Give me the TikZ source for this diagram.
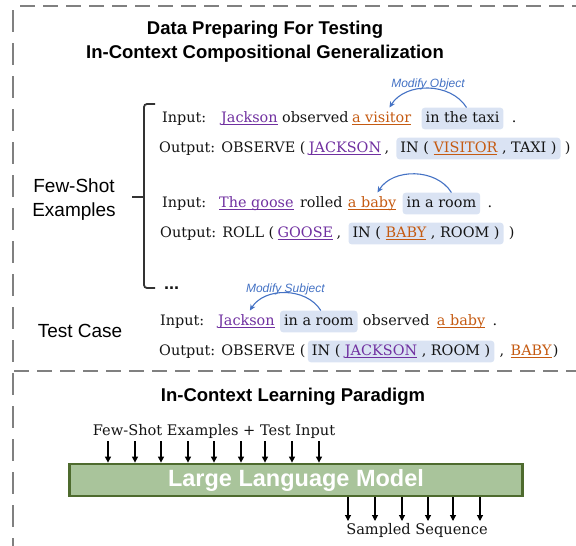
\documentclass[tikz,border=0pt]{standalone}
\usepackage{fontspec}
\setmainfont{DejaVu Serif}
\newfontfamily\hsans{Liberation Sans}
\usetikzlibrary{arrows.meta,calc}
\definecolor{pur}{HTML}{7030A0}
\definecolor{org}{HTML}{C55A11}
\definecolor{blu}{HTML}{4472C4}
\definecolor{hlc}{HTML}{DAE3F3}
\definecolor{frm}{HTML}{808080}
\definecolor{gfill}{HTML}{A9C49B}
\definecolor{gdraw}{HTML}{4E6B2E}
\newcommand\ulw[2]{{\color{#1}\setbox0\hbox{#2}\rlap{\rule[-3pt]{\wd0}{0.9pt}}\box0}}
\tikzset{
  tx/.style={anchor=base west, inner sep=0pt, font=\fontsize{14.4}{16}\selectfont, text=black!92},
  hl/.style={tx, fill=hlc, rounded corners=3pt, inner xsep=4pt, text height=10.5pt, text depth=3.5pt, inner ysep=3.8pt},
  mod/.style={font=\hsans\itshape\fontsize{12}{14}\selectfont, text=blu, inner sep=0pt},
  marr/.style={blu, line width=1.1pt, -{Stealth[length=6pt,width=5.5pt]}},
  ttl/.style={font=\hsans\bfseries\fontsize{18.5}{22}\selectfont, inner sep=0pt},
  lbl/.style={font=\hsans\fontsize{19}{22}\selectfont, inner sep=0pt},
  dframe/.style={frm, line width=2.4pt},
  darr/.style={line width=1.1pt, -{Triangle[length=6pt,width=6pt]}},
}
\newcommand\after[2]{([xshift=#2pt]#1.base east)}
\begin{document}
\begin{tikzpicture}[x=1pt,y=-1pt]
\useasboundingbox (0,0) rectangle (576,546);
% frame
\draw[dframe, dash pattern=on 15pt off 8pt] (20,6) -- (576,6);
\draw[dframe, dash pattern=on 22pt off 11pt] (13,10) -- (13,546);
\draw[dframe, dash pattern=on 15pt off 8pt] (14,371) -- (576,371);
% titles
\node[ttl] (t1) at (265,30) {Data Preparing For Testing};
\node[ttl] (t2) at (265,54) {In-Context Compositional Generalization};
% left labels
\node[lbl, align=center] (fs) at (74,200) {Few-Shot\\[2pt]Examples};
\node[lbl] (tc) at (80,331) {Test Case};
% bracket
\draw[black!80, line width=1.8pt, rounded corners=3pt] (155,104) -- (144,104) -- (144,288) -- (155,288);
\draw[black!80, line width=1.8pt] (144,197) -- (132,197);
% row 1
\node[tx] (i1) at (162,122) {Input:};
\node[tx] (j1) at (221,122) {\ulw{pur}{Jackson}};
\node[tx] (o1) at \after{j1}{4} {observed};
\node[tx] (v1) at \after{o1}{3} {\ulw{org}{a visitor}};
\node[hl] (b1) at \after{v1}{10} {in the taxi};
\node[tx] (d1) at \after{b1}{8} {.};
\node[tx] (p1) at (159,152) {Output: OBSERVE (};
\node[tx] (J1) at \after{p1}{3} {\ulw{pur}{JACKSON}};
\node[tx] (c1) at \after{J1}{3} {,};
\node[hl] (B1) at \after{c1}{7} {IN ( \ulw{org}{VISITOR} , TAXI )};
\node[tx] (e1) at \after{B1}{4} {)};
\coordinate (a1s) at ($(b1.north)+(4,0)$);
\coordinate (a1e) at ($(v1.east |- b1.north)+(-22,0)$);
\draw[marr] (a1s) to[bend right=58] (a1e);
\node[mod] (m1) at ($(a1s)!0.5!(a1e)+(0,-23)$) {Modify Object};
% row 2
\node[tx] (i2) at (162,207) {Input:};
\node[tx] (g2) at (219,207) {\ulw{pur}{The goose}};
\node[tx] (r2) at \after{g2}{6} {rolled};
\node[tx] (y2) at \after{r2}{5} {\ulw{org}{a baby}};
\node[hl] (b2) at \after{y2}{6} {in a room};
\node[tx] (d2) at \after{b2}{7} {.};
\node[tx] (p2) at (160,237) {Output: ROLL (};
\node[tx] (G2) at \after{p2}{3} {\ulw{pur}{GOOSE}};
\node[tx] (c2) at \after{G2}{3} {,};
\node[hl] (B2) at \after{c2}{7} {IN ( \ulw{org}{BABY} , ROOM )};
\node[tx] (e2) at \after{B2}{5} {)};
\coordinate (a2s) at ($(b2.north)+(10,0)$);
\coordinate (a2e) at ($(y2.east |- b2.north)+(-19,0)$);
\draw[marr] (a2s) to[bend right=58] (a2e);
% dots
\node[tx, font=\hsans\bfseries\fontsize{18}{20}\selectfont] (dots) at (164,289) {...};
% test case
\node[tx] (i3) at (160,325) {Input:};
\node[tx] (j3) at (218,325) {\ulw{pur}{Jackson}};
\node[hl] (b3) at \after{j3}{5} {in a room};
\node[tx] (o3) at \after{b3}{5} {observed};
\node[tx] (y3) at \after{o3}{7} {\ulw{org}{a baby}};
\node[tx] (d3) at \after{y3}{7} {.};
\node[tx] (p3) at (159,355) {Output: OBSERVE (};
\node[hl] (B3) at \after{p3}{2} {IN ( \ulw{pur}{JACKSON} , ROOM )};
\node[tx] (c3) at \after{B3}{5} {,};
\node[tx] (Y3) at \after{c3}{6} {\ulw{org}{BABY}};
\node[tx] (e3) at \after{Y3}{1} {)};
\coordinate (a3s) at ($(b3.north)+(2,0)$);
\coordinate (a3e) at ($(j3.east |- b3.north)+(-25,0)$);
\draw[marr] (a3s) to[bend right=58] (a3e);
\node[mod] (m3) at ($(a3s)!0.5!(a3e)+(0,-21)$) {Modify Subject};
% ICL section
\node[ttl] (t3) at (293,397) {In-Context Learning Paradigm};
\node[tx, anchor=center, font=\fontsize{14.6}{16}\selectfont] (fin) at (214,431) {Few-Shot Examples + Test Input};
\node[draw=gdraw, fill=gfill, line width=2.8pt, minimum width=453pt, minimum height=32pt, inner sep=0pt,
      text=white, font=\hsans\bfseries\fontsize{23.5}{26}\selectfont] (llm) at (296,480) {Large Language Model};
\foreach \xx in {108,135,161,188,214,241,265,292,319}
  \draw[darr] (\xx,441) -- (llm.north -| \xx,0);
\node[tx, anchor=center, font=\fontsize{14.6}{16}\selectfont] (sq) at (417,530) {Sampled Sequence};
\foreach \xx in {348,375,402,428,453,480}
  \draw[darr] (llm.south -| \xx,0) -- (\xx,521);
\end{tikzpicture}
\end{document}
